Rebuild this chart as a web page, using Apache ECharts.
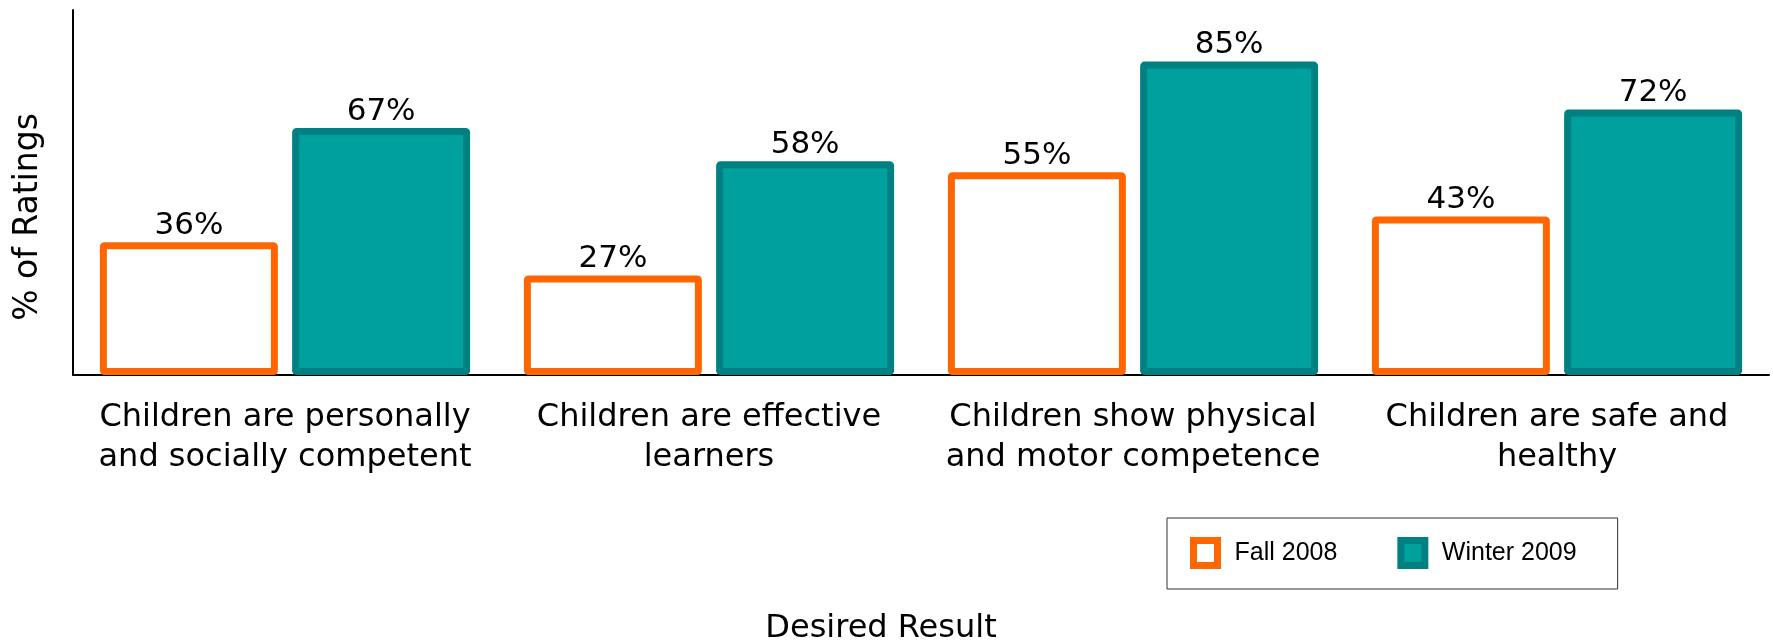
<!DOCTYPE html>
<html>
<head>
<meta charset="utf-8">
<script src="https://cdn.jsdelivr.net/npm/echarts@6/dist/echarts.min.js"></script>
<style>html,body{margin:0;padding:0;background:#fff}#c{width:1773px;height:642px}</style>
</head>
<body>
<div id="c"></div>
<script>
const categories = [
  "Children are personally\nand socially competent",
  "Children are effective\nlearners",
  "Children show physical\nand motor competence",
  "Children are safe and\nhealthy"
];
const seriesNames = ["Fall 2008", "Winter 2009"];
const fall2008 = [36, 27, 55, 43];
const winter2009 = [67, 58, 85, 72];
const yAxisTitle = "% of Ratings";
const xAxisTitle = "Desired Result";

const FONT = "DejaVu Sans";
const chart = echarts.init(document.getElementById('c'));
const labelCfg = {
  show: true, position: 'top', distance: 1,
  formatter: p => p.value + '%',
  fontFamily: FONT, fontSize: 31, color: '#000'
};
chart.setOption({
  animation: false,
  backgroundColor: '#fff',
  grid: { left: 73, right: 4, top: 10, bottom: 267, containLabel: false },
  xAxis: {
    type: 'category', data: categories,
    axisLine: { lineStyle: { color: '#000', width: 2 } },
    axisTick: { show: false },
    axisLabel: { margin: 23, fontFamily: FONT, fontSize: 32, lineHeight: 40, color: '#000', interval: 0, align: 'center' }
  },
  yAxis: {
    type: 'value', min: 0, max: 99,
    axisLine: { show: true, lineStyle: { color: '#000', width: 2 } },
    axisTick: { show: false }, axisLabel: { show: false }, splitLine: { show: false }
  },
  legend: {
    left: 1167, top: 518,
    orient: 'horizontal',
    backgroundColor: '#fff', borderColor: '#333', borderWidth: 1,
    padding: [19, 41, 20, 23],
    itemWidth: 24, itemHeight: 25, itemGap: 60,
    textStyle: { fontFamily: 'Liberation Sans', fontSize: 25, color: '#000', padding: [0, 0, 0, 12] },
    data: [
      { name: seriesNames[0], icon: 'rect', itemStyle: { color: '#fff', borderColor: '#FF6600', borderWidth: 7 } },
      { name: seriesNames[1], icon: 'rect', itemStyle: { color: '#00A09E', borderColor: '#008080', borderWidth: 7 } }
    ]
  },
  graphic: [
    { type: 'text', x: 28, y: 217, rotation: Math.PI / 2,
      style: { text: yAxisTitle, font: '33px "DejaVu Sans"', fill: '#000', textAlign: 'center', textVerticalAlign: 'middle' } },
    { type: 'text', x: 881, y: 629,
      style: { text: xAxisTitle, font: '32px "DejaVu Sans"', fill: '#000', textAlign: 'center', textVerticalAlign: 'middle' } }
  ],
  series: [
    { name: seriesNames[0], type: 'bar', data: fall2008, barWidth: 178, barGap: '8%',
      itemStyle: { color: '#fff', borderColor: '#FF6600', borderWidth: 7, borderRadius: 1 },
      label: labelCfg },
    { name: seriesNames[1], type: 'bar', data: winter2009, barWidth: 178,
      itemStyle: { color: '#00A09E', borderColor: '#008080', borderWidth: 7, borderRadius: 1 },
      label: labelCfg }
  ]
});
</script>
</body>
</html>
